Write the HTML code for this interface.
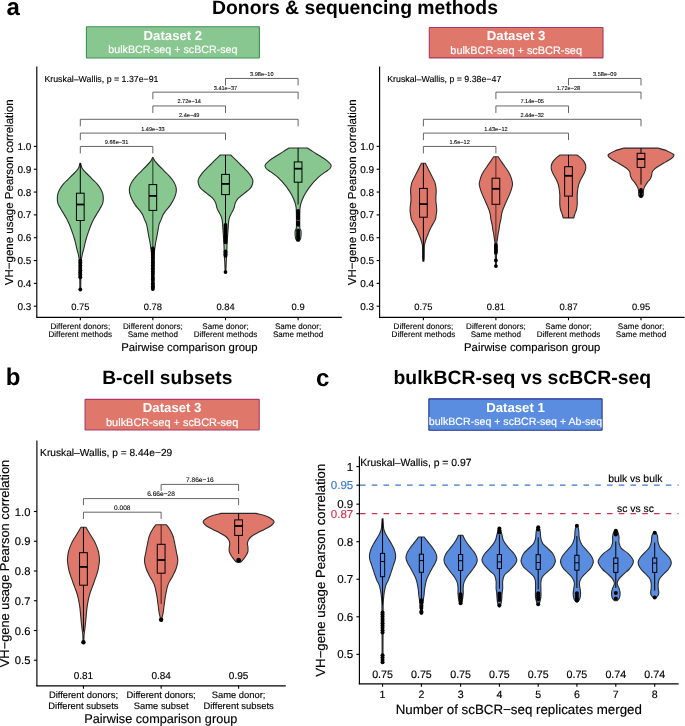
<!DOCTYPE html>
<html><head><meta charset="utf-8"><title>VH-gene usage figure</title>
<style>
html,body{margin:0;padding:0;background:#fff;}
body{width:685px;height:726px;overflow:hidden;}
svg{display:block;font-family:"Liberation Sans", sans-serif;will-change:transform;text-rendering:geometricPrecision;}
</style></head>
<body>
<svg width="685" height="726" viewBox="0 0 685 726">
<rect x="0" y="0" width="685" height="726" fill="#fff"/>
<text x="6.4" y="15" font-size="24" text-anchor="start" fill="#000" font-weight="bold">a</text>
<text x="355" y="14.2" font-size="19.35" text-anchor="middle" fill="#000" font-weight="bold">Donors &amp; sequencing methods</text>
<text x="5.8" y="385.4" font-size="24" text-anchor="start" fill="#000" font-weight="bold">b</text>
<text x="167.3" y="384.2" font-size="19.2" text-anchor="middle" fill="#000" font-weight="bold">B-cell subsets</text>
<text x="316" y="385.5" font-size="24" text-anchor="start" fill="#000" font-weight="bold">c</text>
<text x="522.3" y="384.1" font-size="19.4" text-anchor="middle" fill="#000" font-weight="bold">bulkBCR-seq vs scBCR-seq</text>
<rect x="86.4" y="26.7" width="173" height="31.3" fill="#88c78f" stroke="#3f8f57" stroke-width="1.1" rx="0.4"/>
<text x="172.9" y="39.85" font-size="13.2" text-anchor="middle" fill="#fff" font-weight="bold">Dataset 2</text>
<text x="172.9" y="53.25" font-size="10.7" text-anchor="middle" fill="#fff" stroke="#fff" stroke-width="0.15">bulkBCR-seq + scBCR-seq</text>
<rect x="429.3" y="27.5" width="173.7" height="30.4" fill="#e0776b" stroke="#a8386a" stroke-width="1.1" rx="0.4"/>
<text x="516.15" y="40.2" font-size="13.2" text-anchor="middle" fill="#fff" font-weight="bold">Dataset 3</text>
<text x="516.15" y="53.6" font-size="10.9" text-anchor="middle" fill="#fff" stroke="#fff" stroke-width="0.15">bulkBCR-seq + scBCR-seq</text>
<rect x="85.1" y="399.4" width="174.1" height="30.6" fill="#e0776b" stroke="#a8386a" stroke-width="1.1" rx="0.4"/>
<text x="172.15" y="412.2" font-size="13.2" text-anchor="middle" fill="#fff" font-weight="bold">Dataset 3</text>
<text x="172.15" y="425.6" font-size="10.95" text-anchor="middle" fill="#fff" stroke="#fff" stroke-width="0.15">bulkBCR-seq + scBCR-seq</text>
<rect x="428.85" y="398.85" width="173.25" height="31.4" fill="#5a8de0" stroke="#23338a" stroke-width="1.1" rx="0.4"/>
<text x="515.48" y="412.05" font-size="13.2" text-anchor="middle" fill="#fff" font-weight="bold">Dataset 1</text>
<text x="515.48" y="425.45" font-size="10.62" text-anchor="middle" fill="#fff" stroke="#fff" stroke-width="0.15">bulkBCR-seq + scBCR-seq + Ab-seq</text>
<line x1="36.8" y1="66.4" x2="36.8" y2="317.85" stroke="#000" stroke-width="1.15"/>
<line x1="33.8" y1="306.21" x2="36.8" y2="306.21" stroke="#000" stroke-width="1.1"/>
<text x="31.4" y="309.81" font-size="10" text-anchor="end" fill="#000" stroke="#000" stroke-width="0.15">0.3</text>
<line x1="33.8" y1="283.38" x2="36.8" y2="283.38" stroke="#000" stroke-width="1.1"/>
<text x="31.4" y="286.98" font-size="10" text-anchor="end" fill="#000" stroke="#000" stroke-width="0.15">0.4</text>
<line x1="33.8" y1="260.55" x2="36.8" y2="260.55" stroke="#000" stroke-width="1.1"/>
<text x="31.4" y="264.15" font-size="10" text-anchor="end" fill="#000" stroke="#000" stroke-width="0.15">0.5</text>
<line x1="33.8" y1="237.72" x2="36.8" y2="237.72" stroke="#000" stroke-width="1.1"/>
<text x="31.4" y="241.32" font-size="10" text-anchor="end" fill="#000" stroke="#000" stroke-width="0.15">0.6</text>
<line x1="33.8" y1="214.89" x2="36.8" y2="214.89" stroke="#000" stroke-width="1.1"/>
<text x="31.4" y="218.49" font-size="10" text-anchor="end" fill="#000" stroke="#000" stroke-width="0.15">0.7</text>
<line x1="33.8" y1="192.06" x2="36.8" y2="192.06" stroke="#000" stroke-width="1.1"/>
<text x="31.4" y="195.66" font-size="10" text-anchor="end" fill="#000" stroke="#000" stroke-width="0.15">0.8</text>
<line x1="33.8" y1="169.23" x2="36.8" y2="169.23" stroke="#000" stroke-width="1.1"/>
<text x="31.4" y="172.83" font-size="10" text-anchor="end" fill="#000" stroke="#000" stroke-width="0.15">0.9</text>
<line x1="33.8" y1="146.4" x2="36.8" y2="146.4" stroke="#000" stroke-width="1.1"/>
<text x="31.4" y="150" font-size="10" text-anchor="end" fill="#000" stroke="#000" stroke-width="0.15">1.0</text>
<line x1="36.25" y1="317.3" x2="341.8" y2="317.3" stroke="#000" stroke-width="1.15"/>
<line x1="80.3" y1="317.3" x2="80.3" y2="320.3" stroke="#000" stroke-width="1.1"/>
<line x1="152.85" y1="317.3" x2="152.85" y2="320.3" stroke="#000" stroke-width="1.1"/>
<line x1="225.5" y1="317.3" x2="225.5" y2="320.3" stroke="#000" stroke-width="1.1"/>
<line x1="298.1" y1="317.3" x2="298.1" y2="320.3" stroke="#000" stroke-width="1.1"/>
<text x="12.8" y="192.3" font-size="11.5" text-anchor="middle" fill="#000" stroke="#000" stroke-width="0.15" transform="rotate(-90 12.8 192.3)">VH−gene usage Pearson correlation</text>
<text x="189.4" y="351.2" font-size="11.3" text-anchor="middle" fill="#000" stroke="#000" stroke-width="0.15">Pairwise comparison group</text>
<text x="80.3" y="328.9" font-size="8.1" text-anchor="middle" fill="#000" stroke="#000" stroke-width="0.12">Different donors;</text>
<text x="80.3" y="337.3" font-size="8.1" text-anchor="middle" fill="#000" stroke="#000" stroke-width="0.12">Different methods</text>
<text x="152.85" y="328.9" font-size="8.1" text-anchor="middle" fill="#000" stroke="#000" stroke-width="0.12">Different donors;</text>
<text x="152.85" y="337.3" font-size="8.1" text-anchor="middle" fill="#000" stroke="#000" stroke-width="0.12">Same method</text>
<text x="225.5" y="328.9" font-size="8.1" text-anchor="middle" fill="#000" stroke="#000" stroke-width="0.12">Same donor;</text>
<text x="225.5" y="337.3" font-size="8.1" text-anchor="middle" fill="#000" stroke="#000" stroke-width="0.12">Different methods</text>
<text x="298.1" y="328.9" font-size="8.1" text-anchor="middle" fill="#000" stroke="#000" stroke-width="0.12">Same donor;</text>
<text x="298.1" y="337.3" font-size="8.1" text-anchor="middle" fill="#000" stroke="#000" stroke-width="0.12">Same method</text>
<text x="80.3" y="309.9" font-size="9.4" text-anchor="middle" fill="#000" stroke="#000" stroke-width="0.14">0.75</text>
<text x="152.85" y="309.9" font-size="9.4" text-anchor="middle" fill="#000" stroke="#000" stroke-width="0.14">0.78</text>
<text x="225.5" y="309.9" font-size="9.4" text-anchor="middle" fill="#000" stroke="#000" stroke-width="0.14">0.84</text>
<text x="298.1" y="309.9" font-size="9.4" text-anchor="middle" fill="#000" stroke="#000" stroke-width="0.14">0.9</text>
<text x="44.4" y="81.8" font-size="8.8" text-anchor="start" fill="#000" stroke="#000" stroke-width="0.13">Kruskal–Wallis, p = 1.37e−91</text>
<path d="M80.3 153.45 L80.3 146.45 L152.85 146.45 L152.85 153.45" fill="none" stroke="#555" stroke-width="0.9"/>
<text x="116.57" y="143.85" font-size="5.6" text-anchor="middle" fill="#000" stroke="#000" stroke-width="0.08">9.66e−31</text>
<path d="M80.3 140.1 L80.3 133.1 L225.5 133.1 L225.5 140.1" fill="none" stroke="#555" stroke-width="0.9"/>
<text x="152.9" y="130.5" font-size="5.6" text-anchor="middle" fill="#000" stroke="#000" stroke-width="0.08">1.49e−33</text>
<path d="M80.3 126.3 L80.3 119.3 L298.1 119.3 L298.1 126.3" fill="none" stroke="#555" stroke-width="0.9"/>
<text x="189.2" y="116.7" font-size="5.6" text-anchor="middle" fill="#000" stroke="#000" stroke-width="0.08">2.4e−49</text>
<path d="M152.85 112.95 L152.85 105.95 L225.5 105.95 L225.5 112.95" fill="none" stroke="#555" stroke-width="0.9"/>
<text x="189.18" y="103.35" font-size="5.6" text-anchor="middle" fill="#000" stroke="#000" stroke-width="0.08">2.72e−14</text>
<path d="M152.85 99.15 L152.85 92.15 L298.1 92.15 L298.1 99.15" fill="none" stroke="#555" stroke-width="0.9"/>
<text x="225.48" y="89.55" font-size="5.6" text-anchor="middle" fill="#000" stroke="#000" stroke-width="0.08">3.41e−37</text>
<path d="M225.5 85.45 L225.5 78.45 L298.1 78.45 L298.1 85.45" fill="none" stroke="#555" stroke-width="0.9"/>
<text x="261.8" y="75.85" font-size="5.6" text-anchor="middle" fill="#000" stroke="#000" stroke-width="0.08">3.98e−10</text>
<path d="M80.7 163.2 C80.78 163.58 81 164.75 81.2 165.5 C81.4 166.25 81.45 166.85 81.9 167.7 C82.35 168.55 82.93 169.47 83.9 170.6 C84.87 171.73 86.27 173.05 87.7 174.5 C89.13 175.95 90.9 177.7 92.5 179.3 C94.1 180.9 95.93 182.5 97.3 184.1 C98.67 185.7 99.8 187.3 100.7 188.9 C101.6 190.5 102.27 192.1 102.7 193.7 C103.13 195.3 103.3 196.88 103.3 198.5 C103.3 200.12 103.22 201.78 102.7 203.4 C102.18 205.02 101.08 206.6 100.2 208.2 C99.32 209.8 98.35 211.4 97.4 213 C96.45 214.6 95.38 216.2 94.5 217.8 C93.62 219.4 92.83 221 92.1 222.6 C91.37 224.2 90.58 226.2 90.1 227.4 C89.62 228.6 89.63 228.6 89.2 229.8 C88.77 231 88.03 232.98 87.5 234.6 C86.97 236.22 86.45 237.88 86 239.5 C85.55 241.12 85.18 242.7 84.8 244.3 C84.42 245.9 84.1 247.5 83.7 249.1 C83.3 250.7 82.77 252.3 82.4 253.9 C82.03 255.5 81.73 257.02 81.5 258.7 C81.27 260.38 81.12 260.45 81 264 C80.88 267.55 80.85 275.75 80.8 280 C80.75 284.25 80.72 287.92 80.7 289.5 L79.9 289.5 C79.88 287.92 79.85 284.25 79.8 280 C79.75 275.75 79.72 267.55 79.6 264 C79.48 260.45 79.33 260.38 79.1 258.7 C78.87 257.02 78.57 255.5 78.2 253.9 C77.83 252.3 77.3 250.7 76.9 249.1 C76.5 247.5 76.18 245.9 75.8 244.3 C75.42 242.7 75.05 241.12 74.6 239.5 C74.15 237.88 73.63 236.22 73.1 234.6 C72.57 232.98 71.83 231 71.4 229.8 C70.97 228.6 70.98 228.6 70.5 227.4 C70.02 226.2 69.23 224.2 68.5 222.6 C67.77 221 66.98 219.4 66.1 217.8 C65.22 216.2 64.15 214.6 63.2 213 C62.25 211.4 61.28 209.8 60.4 208.2 C59.52 206.6 58.42 205.02 57.9 203.4 C57.38 201.78 57.3 200.12 57.3 198.5 C57.3 196.88 57.47 195.3 57.9 193.7 C58.33 192.1 59 190.5 59.9 188.9 C60.8 187.3 61.93 185.7 63.3 184.1 C64.67 182.5 66.5 180.9 68.1 179.3 C69.7 177.7 71.47 175.95 72.9 174.5 C74.33 173.05 75.73 171.73 76.7 170.6 C77.67 169.47 78.25 168.55 78.7 167.7 C79.15 166.85 79.2 166.25 79.4 165.5 C79.6 164.75 79.82 163.58 79.9 163.2 Z" fill="#88c78f" stroke="#2b2b2b" stroke-width="1.1" stroke-linejoin="round"/>
<line x1="80.3" y1="163.4" x2="80.3" y2="260" stroke="#000" stroke-width="1"/>
<circle cx="80.3" cy="260.6" r="1.9" fill="#000"/>
<circle cx="80.3" cy="262.22" r="1.9" fill="#000"/>
<circle cx="80.3" cy="263.83" r="1.9" fill="#000"/>
<circle cx="80.3" cy="265.45" r="1.9" fill="#000"/>
<circle cx="80.3" cy="267.07" r="1.9" fill="#000"/>
<circle cx="80.3" cy="268.68" r="1.9" fill="#000"/>
<circle cx="80.3" cy="270.3" r="1.9" fill="#000"/>
<circle cx="80.3" cy="271.9" r="1.9" fill="#000"/>
<circle cx="80.3" cy="273" r="1.9" fill="#000"/>
<circle cx="80.3" cy="274.5" r="1.9" fill="#000"/>
<circle cx="80.3" cy="275.9" r="1.9" fill="#000"/>
<circle cx="80.3" cy="277.3" r="1.9" fill="#000"/>
<circle cx="80.3" cy="289.5" r="1.9" fill="#000"/>
<rect x="76.45" y="193.2" width="7.7" height="27.3" fill="#88c78f" stroke="#000" stroke-width="1"/>
<line x1="76.45" y1="204.5" x2="84.15" y2="204.5" stroke="#000" stroke-width="1.8"/>
<path d="M153.25 157.6 C153.38 157.92 153.7 158.82 154.05 159.5 C154.4 160.18 154.4 160.53 155.35 161.7 C156.3 162.87 158.22 164.9 159.75 166.5 C161.28 168.1 162.95 169.7 164.55 171.3 C166.15 172.9 167.9 174.48 169.35 176.1 C170.8 177.72 172.2 179.38 173.25 181 C174.3 182.62 175.13 184.2 175.65 185.8 C176.17 187.4 176.4 189 176.35 190.6 C176.3 192.2 175.87 193.78 175.35 195.4 C174.83 197.02 174.08 198.68 173.25 200.3 C172.42 201.92 171.48 203.5 170.35 205.1 C169.22 206.7 167.67 208.3 166.45 209.9 C165.23 211.5 163.92 213.12 163.05 214.7 C162.18 216.28 161.88 217.88 161.25 219.4 C160.62 220.92 159.73 222.33 159.25 223.8 C158.77 225.27 158.63 226.73 158.35 228.2 C158.07 229.67 157.82 231.12 157.55 232.6 C157.28 234.08 157.07 235.43 156.75 237.1 C156.43 238.77 155.97 240.77 155.65 242.6 C155.33 244.43 155.12 246.03 154.85 248.1 C154.58 250.17 154.27 251.35 154.05 255 C153.83 258.65 153.68 264.33 153.55 270 C153.42 275.67 153.3 285.83 153.25 289 L152.45 289 C152.4 285.83 152.28 275.67 152.15 270 C152.02 264.33 151.87 258.65 151.65 255 C151.43 251.35 151.12 250.17 150.85 248.1 C150.58 246.03 150.37 244.43 150.05 242.6 C149.73 240.77 149.27 238.77 148.95 237.1 C148.63 235.43 148.42 234.08 148.15 232.6 C147.88 231.12 147.63 229.67 147.35 228.2 C147.07 226.73 146.93 225.27 146.45 223.8 C145.97 222.33 145.08 220.92 144.45 219.4 C143.82 217.88 143.52 216.28 142.65 214.7 C141.78 213.12 140.47 211.5 139.25 209.9 C138.03 208.3 136.48 206.7 135.35 205.1 C134.22 203.5 133.28 201.92 132.45 200.3 C131.62 198.68 130.87 197.02 130.35 195.4 C129.83 193.78 129.4 192.2 129.35 190.6 C129.3 189 129.53 187.4 130.05 185.8 C130.57 184.2 131.4 182.62 132.45 181 C133.5 179.38 134.9 177.72 136.35 176.1 C137.8 174.48 139.55 172.9 141.15 171.3 C142.75 169.7 144.42 168.1 145.95 166.5 C147.48 164.9 149.4 162.87 150.35 161.7 C151.3 160.53 151.3 160.18 151.65 159.5 C152 158.82 152.32 157.92 152.45 157.6 Z" fill="#88c78f" stroke="#2b2b2b" stroke-width="1.1" stroke-linejoin="round"/>
<line x1="152.85" y1="157.8" x2="152.85" y2="248" stroke="#1d3a22" stroke-width="1"/>
<circle cx="152.85" cy="248.3" r="1.9" fill="#000"/>
<circle cx="152.85" cy="249.84" r="1.9" fill="#000"/>
<circle cx="152.85" cy="251.38" r="1.9" fill="#000"/>
<circle cx="152.85" cy="252.92" r="1.9" fill="#000"/>
<circle cx="152.85" cy="254.46" r="1.9" fill="#000"/>
<circle cx="152.85" cy="256.01" r="1.9" fill="#000"/>
<circle cx="152.85" cy="257.55" r="1.9" fill="#000"/>
<circle cx="152.85" cy="259.09" r="1.9" fill="#000"/>
<circle cx="152.85" cy="260.63" r="1.9" fill="#000"/>
<circle cx="152.85" cy="262.17" r="1.9" fill="#000"/>
<circle cx="152.85" cy="263.71" r="1.9" fill="#000"/>
<circle cx="152.85" cy="265.25" r="1.9" fill="#000"/>
<circle cx="152.85" cy="266.79" r="1.9" fill="#000"/>
<circle cx="152.85" cy="268.34" r="1.9" fill="#000"/>
<circle cx="152.85" cy="269.88" r="1.9" fill="#000"/>
<circle cx="152.85" cy="271.42" r="1.9" fill="#000"/>
<circle cx="152.85" cy="272.96" r="1.9" fill="#000"/>
<circle cx="152.85" cy="274.5" r="1.9" fill="#000"/>
<circle cx="152.85" cy="276.7" r="1.9" fill="#000"/>
<circle cx="152.85" cy="278.1" r="1.9" fill="#000"/>
<circle cx="152.85" cy="279.5" r="1.9" fill="#000"/>
<circle cx="152.85" cy="281" r="1.9" fill="#000"/>
<circle cx="152.85" cy="283.2" r="1.9" fill="#000"/>
<circle cx="152.85" cy="284.8" r="1.9" fill="#000"/>
<circle cx="152.85" cy="286.2" r="1.9" fill="#000"/>
<circle cx="152.85" cy="287.6" r="1.9" fill="#000"/>
<circle cx="152.85" cy="289" r="1.9" fill="#000"/>
<rect x="149" y="184.6" width="7.7" height="25.8" fill="#88c78f" stroke="#000" stroke-width="1"/>
<line x1="149" y1="195.9" x2="156.7" y2="195.9" stroke="#000" stroke-width="1.8"/>
<path d="M230.7 155 C231.5 155.77 233.88 158.02 235.5 159.6 C237.12 161.18 238.78 162.88 240.4 164.5 C242.02 166.12 243.68 167.7 245.2 169.3 C246.72 170.9 248.3 172.5 249.5 174.1 C250.7 175.7 251.83 177.62 252.4 178.9 C252.97 180.18 252.98 180.67 252.9 181.8 C252.82 182.93 252.38 184.57 251.9 185.7 C251.42 186.83 251.28 187.32 250 188.6 C248.72 189.88 246.13 191.8 244.2 193.4 C242.27 195 239.88 196.6 238.4 198.2 C236.92 199.8 236.02 201.38 235.3 203 C234.58 204.62 234.45 206.73 234.1 207.9 C233.75 209.07 233.78 208.85 233.2 210 C232.62 211.15 231.32 213.2 230.6 214.8 C229.88 216.4 229.27 217.98 228.9 219.6 C228.53 221.22 228.53 222.88 228.4 224.5 C228.27 226.12 228.22 227.7 228.1 229.3 C227.98 230.9 227.82 232.5 227.7 234.1 C227.58 235.7 227.5 237.3 227.4 238.9 C227.3 240.5 227.18 242.1 227.1 243.7 C227.02 245.3 226.95 246.88 226.9 248.5 C226.85 250.12 226.87 251.78 226.8 253.4 C226.73 255.02 226.6 256.6 226.5 258.2 C226.4 259.8 226.28 261.37 226.2 263 C226.12 264.63 226.05 266.5 226 268 C225.95 269.5 225.92 271.33 225.9 272 L225.1 272 C225.08 271.33 225.05 269.5 225 268 C224.95 266.5 224.88 264.63 224.8 263 C224.72 261.37 224.6 259.8 224.5 258.2 C224.4 256.6 224.27 255.02 224.2 253.4 C224.13 251.78 224.15 250.12 224.1 248.5 C224.05 246.88 223.98 245.3 223.9 243.7 C223.82 242.1 223.7 240.5 223.6 238.9 C223.5 237.3 223.42 235.7 223.3 234.1 C223.18 232.5 223.02 230.9 222.9 229.3 C222.78 227.7 222.73 226.12 222.6 224.5 C222.47 222.88 222.47 221.22 222.1 219.6 C221.73 217.98 221.12 216.4 220.4 214.8 C219.68 213.2 218.38 211.15 217.8 210 C217.22 208.85 217.25 209.07 216.9 207.9 C216.55 206.73 216.42 204.62 215.7 203 C214.98 201.38 214.08 199.8 212.6 198.2 C211.12 196.6 208.73 195 206.8 193.4 C204.87 191.8 202.28 189.88 201 188.6 C199.72 187.32 199.58 186.83 199.1 185.7 C198.62 184.57 198.18 182.93 198.1 181.8 C198.02 180.67 198.03 180.18 198.6 178.9 C199.17 177.62 200.3 175.7 201.5 174.1 C202.7 172.5 204.28 170.9 205.8 169.3 C207.32 167.7 208.98 166.12 210.6 164.5 C212.22 162.88 213.88 161.18 215.5 159.6 C217.12 158.02 219.5 155.77 220.3 155 Z" fill="#88c78f" stroke="#2b2b2b" stroke-width="1.1" stroke-linejoin="round"/>
<line x1="225.5" y1="155" x2="225.5" y2="224.9" stroke="#000" stroke-width="1"/>
<circle cx="225.5" cy="224.9" r="1.9" fill="#000"/>
<circle cx="225.5" cy="226.54" r="1.9" fill="#000"/>
<circle cx="225.5" cy="228.18" r="1.9" fill="#000"/>
<circle cx="225.5" cy="229.82" r="1.9" fill="#000"/>
<circle cx="225.5" cy="231.46" r="1.9" fill="#000"/>
<circle cx="225.5" cy="233.1" r="1.9" fill="#000"/>
<circle cx="225.5" cy="235" r="1.9" fill="#000"/>
<circle cx="225.5" cy="236.3" r="1.9" fill="#000"/>
<circle cx="225.5" cy="237.6" r="1.9" fill="#000"/>
<circle cx="225.5" cy="238.9" r="1.9" fill="#000"/>
<circle cx="225.5" cy="240.3" r="1.9" fill="#000"/>
<circle cx="225.5" cy="242.3" r="1.9" fill="#000"/>
<circle cx="225.5" cy="251.4" r="1.9" fill="#000"/>
<circle cx="225.5" cy="252.87" r="1.9" fill="#000"/>
<circle cx="225.5" cy="254.33" r="1.9" fill="#000"/>
<circle cx="225.5" cy="255.8" r="1.9" fill="#000"/>
<circle cx="225.5" cy="272.1" r="1.9" fill="#000"/>
<rect x="221.65" y="174.4" width="7.7" height="20.2" fill="#88c78f" stroke="#000" stroke-width="1"/>
<line x1="221.65" y1="183.9" x2="229.35" y2="183.9" stroke="#000" stroke-width="1.8"/>
<path d="M307.2 148 C308.22 148.65 311.08 150.52 313.3 151.9 C315.52 153.28 318.18 154.82 320.5 156.3 C322.82 157.78 325.43 159.32 327.2 160.8 C328.97 162.28 330.63 163.92 331.1 165.2 C331.57 166.48 330.93 167.38 330 168.5 C329.07 169.62 327.27 170.6 325.5 171.9 C323.73 173.2 321.15 174.83 319.4 176.3 C317.65 177.77 316.38 179.22 315 180.7 C313.62 182.18 312.3 183.72 311.1 185.2 C309.9 186.68 308.82 188.12 307.8 189.6 C306.78 191.08 305.83 192.62 305 194.1 C304.17 195.58 303.45 197.03 302.8 198.5 C302.15 199.97 301.55 201.42 301.1 202.9 C300.65 204.38 300.3 206.17 300.1 207.4 C299.9 208.63 299.95 209.23 299.9 210.3 C299.85 211.37 299.82 210.92 299.8 213.8 C299.78 216.68 299.62 224.85 299.8 227.6 C299.98 230.35 300.68 229.15 300.9 230.3 C301.12 231.45 301.17 233.12 301.1 234.5 C301.03 235.88 300.77 237.58 300.5 238.6 C300.23 239.62 299.82 240.15 299.5 240.6 C299.18 241.05 298.75 241.18 298.6 241.3 L297.6 241.3 C297.45 241.18 297.02 241.05 296.7 240.6 C296.38 240.15 295.97 239.62 295.7 238.6 C295.43 237.58 295.17 235.88 295.1 234.5 C295.03 233.12 295.08 231.45 295.3 230.3 C295.52 229.15 296.22 230.35 296.4 227.6 C296.58 224.85 296.42 216.68 296.4 213.8 C296.38 210.92 296.35 211.37 296.3 210.3 C296.25 209.23 296.3 208.63 296.1 207.4 C295.9 206.17 295.55 204.38 295.1 202.9 C294.65 201.42 294.05 199.97 293.4 198.5 C292.75 197.03 292.03 195.58 291.2 194.1 C290.37 192.62 289.42 191.08 288.4 189.6 C287.38 188.12 286.3 186.68 285.1 185.2 C283.9 183.72 282.58 182.18 281.2 180.7 C279.82 179.22 278.55 177.77 276.8 176.3 C275.05 174.83 272.47 173.2 270.7 171.9 C268.93 170.6 267.13 169.62 266.2 168.5 C265.27 167.38 264.63 166.48 265.1 165.2 C265.57 163.92 267.23 162.28 269 160.8 C270.77 159.32 273.38 157.78 275.7 156.3 C278.02 154.82 280.68 153.28 282.9 151.9 C285.12 150.52 287.98 148.65 289 148 Z" fill="#88c78f" stroke="#2b2b2b" stroke-width="1.1" stroke-linejoin="round"/>
<line x1="298.1" y1="148" x2="298.1" y2="204.6" stroke="#000" stroke-width="1"/>
<circle cx="298.1" cy="211" r="1.9" fill="#000"/>
<circle cx="298.1" cy="212.4" r="1.9" fill="#000"/>
<circle cx="298.1" cy="213.8" r="1.9" fill="#000"/>
<circle cx="298.1" cy="216.2" r="1.9" fill="#000"/>
<circle cx="298.1" cy="217.4" r="1.9" fill="#000"/>
<circle cx="298.1" cy="218.6" r="1.9" fill="#000"/>
<circle cx="298.1" cy="222.4" r="1.9" fill="#000"/>
<circle cx="298.1" cy="223.6" r="1.9" fill="#000"/>
<circle cx="298.1" cy="224.8" r="1.9" fill="#000"/>
<circle cx="298.1" cy="230.3" r="1.9" fill="#000"/>
<circle cx="298.1" cy="231.82" r="1.9" fill="#000"/>
<circle cx="298.1" cy="233.33" r="1.9" fill="#000"/>
<circle cx="298.1" cy="234.85" r="1.9" fill="#000"/>
<circle cx="298.1" cy="236.37" r="1.9" fill="#000"/>
<circle cx="298.1" cy="237.88" r="1.9" fill="#000"/>
<circle cx="298.1" cy="239.4" r="1.9" fill="#000"/>
<rect x="294.25" y="161.9" width="7.7" height="20.3" fill="#88c78f" stroke="#000" stroke-width="1"/>
<line x1="294.25" y1="168.7" x2="301.95" y2="168.7" stroke="#000" stroke-width="1.8"/>
<line x1="379.6" y1="66.4" x2="379.6" y2="317.85" stroke="#000" stroke-width="1.15"/>
<line x1="376.6" y1="306.21" x2="379.6" y2="306.21" stroke="#000" stroke-width="1.1"/>
<text x="374.2" y="309.81" font-size="10" text-anchor="end" fill="#000" stroke="#000" stroke-width="0.15">0.3</text>
<line x1="376.6" y1="283.38" x2="379.6" y2="283.38" stroke="#000" stroke-width="1.1"/>
<text x="374.2" y="286.98" font-size="10" text-anchor="end" fill="#000" stroke="#000" stroke-width="0.15">0.4</text>
<line x1="376.6" y1="260.55" x2="379.6" y2="260.55" stroke="#000" stroke-width="1.1"/>
<text x="374.2" y="264.15" font-size="10" text-anchor="end" fill="#000" stroke="#000" stroke-width="0.15">0.5</text>
<line x1="376.6" y1="237.72" x2="379.6" y2="237.72" stroke="#000" stroke-width="1.1"/>
<text x="374.2" y="241.32" font-size="10" text-anchor="end" fill="#000" stroke="#000" stroke-width="0.15">0.6</text>
<line x1="376.6" y1="214.89" x2="379.6" y2="214.89" stroke="#000" stroke-width="1.1"/>
<text x="374.2" y="218.49" font-size="10" text-anchor="end" fill="#000" stroke="#000" stroke-width="0.15">0.7</text>
<line x1="376.6" y1="192.06" x2="379.6" y2="192.06" stroke="#000" stroke-width="1.1"/>
<text x="374.2" y="195.66" font-size="10" text-anchor="end" fill="#000" stroke="#000" stroke-width="0.15">0.8</text>
<line x1="376.6" y1="169.23" x2="379.6" y2="169.23" stroke="#000" stroke-width="1.1"/>
<text x="374.2" y="172.83" font-size="10" text-anchor="end" fill="#000" stroke="#000" stroke-width="0.15">0.9</text>
<line x1="376.6" y1="146.4" x2="379.6" y2="146.4" stroke="#000" stroke-width="1.1"/>
<text x="374.2" y="150" font-size="10" text-anchor="end" fill="#000" stroke="#000" stroke-width="0.15">1.0</text>
<line x1="379.05" y1="317.3" x2="684.6" y2="317.3" stroke="#000" stroke-width="1.15"/>
<line x1="423.4" y1="317.3" x2="423.4" y2="320.3" stroke="#000" stroke-width="1.1"/>
<line x1="495.9" y1="317.3" x2="495.9" y2="320.3" stroke="#000" stroke-width="1.1"/>
<line x1="568.5" y1="317.3" x2="568.5" y2="320.3" stroke="#000" stroke-width="1.1"/>
<line x1="641" y1="317.3" x2="641" y2="320.3" stroke="#000" stroke-width="1.1"/>
<text x="355.6" y="192.3" font-size="11.5" text-anchor="middle" fill="#000" stroke="#000" stroke-width="0.15" transform="rotate(-90 355.6 192.3)">VH−gene usage Pearson correlation</text>
<text x="532.2" y="351.2" font-size="11.3" text-anchor="middle" fill="#000" stroke="#000" stroke-width="0.15">Pairwise comparison group</text>
<text x="423.4" y="328.9" font-size="8.1" text-anchor="middle" fill="#000" stroke="#000" stroke-width="0.12">Different donors;</text>
<text x="423.4" y="337.3" font-size="8.1" text-anchor="middle" fill="#000" stroke="#000" stroke-width="0.12">Different methods</text>
<text x="495.9" y="328.9" font-size="8.1" text-anchor="middle" fill="#000" stroke="#000" stroke-width="0.12">Different donors;</text>
<text x="495.9" y="337.3" font-size="8.1" text-anchor="middle" fill="#000" stroke="#000" stroke-width="0.12">Same method</text>
<text x="568.5" y="328.9" font-size="8.1" text-anchor="middle" fill="#000" stroke="#000" stroke-width="0.12">Same donor;</text>
<text x="568.5" y="337.3" font-size="8.1" text-anchor="middle" fill="#000" stroke="#000" stroke-width="0.12">Different methods</text>
<text x="641" y="328.9" font-size="8.1" text-anchor="middle" fill="#000" stroke="#000" stroke-width="0.12">Same donor;</text>
<text x="641" y="337.3" font-size="8.1" text-anchor="middle" fill="#000" stroke="#000" stroke-width="0.12">Same method</text>
<text x="423.4" y="309.9" font-size="9.4" text-anchor="middle" fill="#000" stroke="#000" stroke-width="0.14">0.75</text>
<text x="495.9" y="309.9" font-size="9.4" text-anchor="middle" fill="#000" stroke="#000" stroke-width="0.14">0.81</text>
<text x="568.5" y="309.9" font-size="9.4" text-anchor="middle" fill="#000" stroke="#000" stroke-width="0.14">0.87</text>
<text x="641" y="309.9" font-size="9.4" text-anchor="middle" fill="#000" stroke="#000" stroke-width="0.14">0.95</text>
<text x="387.2" y="81.8" font-size="8.8" text-anchor="start" fill="#000" stroke="#000" stroke-width="0.13">Kruskal–Wallis, p = 9.38e−47</text>
<path d="M423.4 153.45 L423.4 146.45 L495.9 146.45 L495.9 153.45" fill="none" stroke="#555" stroke-width="0.9"/>
<text x="459.65" y="143.85" font-size="5.6" text-anchor="middle" fill="#000" stroke="#000" stroke-width="0.08">1.6e−12</text>
<path d="M423.4 140.1 L423.4 133.1 L568.5 133.1 L568.5 140.1" fill="none" stroke="#555" stroke-width="0.9"/>
<text x="495.95" y="130.5" font-size="5.6" text-anchor="middle" fill="#000" stroke="#000" stroke-width="0.08">1.43e−12</text>
<path d="M423.4 126.3 L423.4 119.3 L641 119.3 L641 126.3" fill="none" stroke="#555" stroke-width="0.9"/>
<text x="532.2" y="116.7" font-size="5.6" text-anchor="middle" fill="#000" stroke="#000" stroke-width="0.08">2.44e−32</text>
<path d="M495.9 112.95 L495.9 105.95 L568.5 105.95 L568.5 112.95" fill="none" stroke="#555" stroke-width="0.9"/>
<text x="532.2" y="103.35" font-size="5.6" text-anchor="middle" fill="#000" stroke="#000" stroke-width="0.08">7.14e−05</text>
<path d="M495.9 99.15 L495.9 92.15 L641 92.15 L641 99.15" fill="none" stroke="#555" stroke-width="0.9"/>
<text x="568.45" y="89.55" font-size="5.6" text-anchor="middle" fill="#000" stroke="#000" stroke-width="0.08">1.72e−28</text>
<path d="M568.5 85.45 L568.5 78.45 L641 78.45 L641 85.45" fill="none" stroke="#555" stroke-width="0.9"/>
<text x="604.75" y="75.85" font-size="5.6" text-anchor="middle" fill="#000" stroke="#000" stroke-width="0.08">3.58e−09</text>
<path d="M425.3 163.3 C425.68 164.03 426.82 166.17 427.6 167.7 C428.38 169.23 429.2 170.9 430 172.5 C430.8 174.1 431.6 175.7 432.4 177.3 C433.2 178.9 434.22 180.48 434.8 182.1 C435.38 183.72 435.67 185.38 435.9 187 C436.13 188.62 436.2 190.2 436.2 191.8 C436.2 193.4 435.95 195 435.9 196.6 C435.85 198.2 435.8 199.78 435.9 201.4 C436 203.02 436.37 204.68 436.5 206.3 C436.63 207.92 436.78 209.5 436.7 211.1 C436.62 212.7 436.18 214.62 436 215.9 C435.82 217.18 435.97 217.68 435.6 218.8 C435.23 219.92 434.48 221.33 433.8 222.6 C433.12 223.87 432.2 225.13 431.5 226.4 C430.8 227.67 430.17 228.93 429.6 230.2 C429.03 231.47 428.6 232.75 428.1 234 C427.6 235.25 427.07 236.45 426.6 237.7 C426.13 238.95 425.67 240.23 425.3 241.5 C424.93 242.77 424.57 244.03 424.4 245.3 C424.23 246.57 424.33 246.98 424.3 249.1 C424.27 251.22 424.27 255.98 424.2 258 C424.13 260.02 423.95 260.67 423.9 261.2 L422.9 261.2 C422.85 260.67 422.67 260.02 422.6 258 C422.53 255.98 422.53 251.22 422.5 249.1 C422.47 246.98 422.57 246.57 422.4 245.3 C422.23 244.03 421.87 242.77 421.5 241.5 C421.13 240.23 420.67 238.95 420.2 237.7 C419.73 236.45 419.2 235.25 418.7 234 C418.2 232.75 417.77 231.47 417.2 230.2 C416.63 228.93 416 227.67 415.3 226.4 C414.6 225.13 413.68 223.87 413 222.6 C412.32 221.33 411.57 219.92 411.2 218.8 C410.83 217.68 410.98 217.18 410.8 215.9 C410.62 214.62 410.18 212.7 410.1 211.1 C410.02 209.5 410.17 207.92 410.3 206.3 C410.43 204.68 410.8 203.02 410.9 201.4 C411 199.78 410.95 198.2 410.9 196.6 C410.85 195 410.6 193.4 410.6 191.8 C410.6 190.2 410.67 188.62 410.9 187 C411.13 185.38 411.42 183.72 412 182.1 C412.58 180.48 413.6 178.9 414.4 177.3 C415.2 175.7 416 174.1 416.8 172.5 C417.6 170.9 418.42 169.23 419.2 167.7 C419.98 166.17 421.12 164.03 421.5 163.3 Z" fill="#e0776b" stroke="#2b2b2b" stroke-width="1.1" stroke-linejoin="round"/>
<line x1="423.4" y1="163.3" x2="423.4" y2="261.2" stroke="#000" stroke-width="1"/>
<rect x="419.55" y="188.4" width="7.7" height="28.8" fill="#e0776b" stroke="#000" stroke-width="1"/>
<line x1="419.55" y1="204.1" x2="427.25" y2="204.1" stroke="#000" stroke-width="1.8"/>
<path d="M498.2 156.8 C498.73 157.6 500.3 159.98 501.4 161.6 C502.5 163.22 503.68 164.88 504.8 166.5 C505.92 168.12 507.13 169.7 508.1 171.3 C509.07 172.9 509.95 174.5 510.6 176.1 C511.25 177.7 511.68 179.45 512 180.9 C512.32 182.35 512.67 183.18 512.5 184.8 C512.33 186.42 511.57 188.83 511 190.6 C510.43 192.37 509.78 193.8 509.1 195.4 C508.42 197 507.62 198.6 506.9 200.2 C506.18 201.8 505.48 203.4 504.8 205 C504.12 206.6 503.35 208.18 502.8 209.8 C502.25 211.42 501.8 213.2 501.5 214.7 C501.2 216.2 501.23 217.48 501 218.8 C500.77 220.12 500.37 221.33 500.1 222.6 C499.83 223.87 499.6 225.15 499.4 226.4 C499.2 227.65 499.12 228.85 498.9 230.1 C498.68 231.35 498.32 232.63 498.1 233.9 C497.88 235.17 497.78 236.43 497.6 237.7 C497.42 238.97 497.15 240.37 497 241.5 C496.85 242.63 496.78 242.25 496.7 244.5 C496.62 246.75 496.57 251.4 496.5 255 C496.43 258.6 496.33 264.25 496.3 266.1 L495.5 266.1 C495.47 264.25 495.37 258.6 495.3 255 C495.23 251.4 495.18 246.75 495.1 244.5 C495.02 242.25 494.95 242.63 494.8 241.5 C494.65 240.37 494.38 238.97 494.2 237.7 C494.02 236.43 493.92 235.17 493.7 233.9 C493.48 232.63 493.12 231.35 492.9 230.1 C492.68 228.85 492.6 227.65 492.4 226.4 C492.2 225.15 491.97 223.87 491.7 222.6 C491.43 221.33 491.03 220.12 490.8 218.8 C490.57 217.48 490.6 216.2 490.3 214.7 C490 213.2 489.55 211.42 489 209.8 C488.45 208.18 487.68 206.6 487 205 C486.32 203.4 485.62 201.8 484.9 200.2 C484.18 198.6 483.38 197 482.7 195.4 C482.02 193.8 481.37 192.37 480.8 190.6 C480.23 188.83 479.47 186.42 479.3 184.8 C479.13 183.18 479.48 182.35 479.8 180.9 C480.12 179.45 480.55 177.7 481.2 176.1 C481.85 174.5 482.73 172.9 483.7 171.3 C484.67 169.7 485.88 168.12 487 166.5 C488.12 164.88 489.3 163.22 490.4 161.6 C491.5 159.98 493.07 157.6 493.6 156.8 Z" fill="#e0776b" stroke="#2b2b2b" stroke-width="1.1" stroke-linejoin="round"/>
<line x1="495.9" y1="156.8" x2="495.9" y2="244" stroke="#5a2520" stroke-width="1"/>
<circle cx="495.9" cy="244.8" r="1.9" fill="#000"/>
<circle cx="495.9" cy="246.4" r="1.9" fill="#000"/>
<circle cx="495.9" cy="248" r="1.9" fill="#000"/>
<circle cx="495.9" cy="249.6" r="1.9" fill="#000"/>
<circle cx="495.9" cy="251.2" r="1.9" fill="#000"/>
<circle cx="495.9" cy="252.8" r="1.9" fill="#000"/>
<circle cx="495.9" cy="260.4" r="1.9" fill="#000"/>
<circle cx="495.9" cy="266.1" r="1.9" fill="#000"/>
<rect x="492.05" y="178.2" width="7.7" height="26.1" fill="#e0776b" stroke="#000" stroke-width="1"/>
<line x1="492.05" y1="188.8" x2="499.75" y2="188.8" stroke="#000" stroke-width="1.8"/>
<path d="M576.9 155 C577.53 155.48 579.48 156.75 580.7 157.9 C581.92 159.05 583.37 160.57 584.2 161.9 C585.03 163.23 585.48 164.58 585.7 165.9 C585.92 167.22 585.8 168.48 585.5 169.8 C585.2 171.12 584.53 172.47 583.9 173.8 C583.27 175.13 582.4 176.48 581.7 177.8 C581 179.12 580.25 180.38 579.7 181.7 C579.15 183.02 578.73 184.37 578.4 185.7 C578.07 187.03 577.9 188.22 577.7 189.7 C577.5 191.18 577.28 192.95 577.2 194.6 C577.12 196.25 577.2 197.95 577.2 199.6 C577.2 201.25 577.32 202.85 577.2 204.5 C577.08 206.15 576.92 207.83 576.5 209.5 C576.08 211.17 575.15 213.1 574.7 214.5 C574.25 215.9 573.95 217.33 573.8 217.9 L563.2 217.9 C563.05 217.33 562.75 215.9 562.3 214.5 C561.85 213.1 560.92 211.17 560.5 209.5 C560.08 207.83 559.92 206.15 559.8 204.5 C559.68 202.85 559.8 201.25 559.8 199.6 C559.8 197.95 559.88 196.25 559.8 194.6 C559.72 192.95 559.5 191.18 559.3 189.7 C559.1 188.22 558.93 187.03 558.6 185.7 C558.27 184.37 557.85 183.02 557.3 181.7 C556.75 180.38 556 179.12 555.3 177.8 C554.6 176.48 553.73 175.13 553.1 173.8 C552.47 172.47 551.8 171.12 551.5 169.8 C551.2 168.48 551.08 167.22 551.3 165.9 C551.52 164.58 551.97 163.23 552.8 161.9 C553.63 160.57 555.08 159.05 556.3 157.9 C557.52 156.75 559.47 155.48 560.1 155 Z" fill="#e0776b" stroke="#2b2b2b" stroke-width="1.1" stroke-linejoin="round"/>
<line x1="568.5" y1="155" x2="568.5" y2="217.9" stroke="#000" stroke-width="1"/>
<rect x="564.65" y="166.7" width="7.7" height="29.4" fill="#e0776b" stroke="#000" stroke-width="1"/>
<line x1="564.65" y1="175.8" x2="572.35" y2="175.8" stroke="#000" stroke-width="1.8"/>
<path d="M658.1 148.1 C659.6 148.57 664.57 149.88 667.1 150.9 C669.63 151.92 672.18 153.37 673.3 154.2 C674.42 155.03 674.18 155.15 673.8 155.9 C673.42 156.65 672.4 157.67 671 158.7 C669.6 159.73 667.27 160.97 665.4 162.1 C663.53 163.23 661.58 164.37 659.8 165.5 C658.02 166.63 655.98 167.78 654.7 168.9 C653.42 170.02 652.62 171.08 652.1 172.2 C651.58 173.32 651.92 174.47 651.6 175.6 C651.28 176.73 650.9 177.88 650.2 179 C649.5 180.12 648.23 181.18 647.4 182.3 C646.57 183.42 645.82 184.57 645.2 185.7 C644.58 186.83 644 187.97 643.7 189.1 C643.4 190.23 643.48 191.43 643.4 192.5 C643.32 193.57 643.47 194.67 643.2 195.5 C642.93 196.33 642.03 197.17 641.8 197.5 L640.2 197.5 C639.97 197.17 639.07 196.33 638.8 195.5 C638.53 194.67 638.68 193.57 638.6 192.5 C638.52 191.43 638.6 190.23 638.3 189.1 C638 187.97 637.42 186.83 636.8 185.7 C636.18 184.57 635.43 183.42 634.6 182.3 C633.77 181.18 632.5 180.12 631.8 179 C631.1 177.88 630.72 176.73 630.4 175.6 C630.08 174.47 630.42 173.32 629.9 172.2 C629.38 171.08 628.58 170.02 627.3 168.9 C626.02 167.78 623.98 166.63 622.2 165.5 C620.42 164.37 618.47 163.23 616.6 162.1 C614.73 160.97 612.4 159.73 611 158.7 C609.6 157.67 608.58 156.65 608.2 155.9 C607.82 155.15 607.58 155.03 608.7 154.2 C609.82 153.37 612.37 151.92 614.9 150.9 C617.43 149.88 622.4 148.57 623.9 148.1 Z" fill="#e0776b" stroke="#2b2b2b" stroke-width="1.1" stroke-linejoin="round"/>
<line x1="641" y1="148.1" x2="641" y2="184.6" stroke="#000" stroke-width="1"/>
<circle cx="641" cy="190" r="1.9" fill="#000"/>
<circle cx="641" cy="191.25" r="1.9" fill="#000"/>
<circle cx="641" cy="192.5" r="1.9" fill="#000"/>
<circle cx="641" cy="195.5" r="1.9" fill="#000"/>
<rect x="637.15" y="153.3" width="7.7" height="14.1" fill="#e0776b" stroke="#000" stroke-width="1"/>
<line x1="637.15" y1="159.1" x2="644.85" y2="159.1" stroke="#000" stroke-width="1.8"/>
<line x1="36.9" y1="440.4" x2="36.9" y2="686.35" stroke="#000" stroke-width="1.15"/>
<line x1="33.9" y1="660.25" x2="36.9" y2="660.25" stroke="#000" stroke-width="1.1"/>
<text x="30.4" y="664.28" font-size="11.2" text-anchor="end" fill="#000" stroke="#000" stroke-width="0.15">0.5</text>
<line x1="33.9" y1="630.5" x2="36.9" y2="630.5" stroke="#000" stroke-width="1.1"/>
<text x="30.4" y="634.53" font-size="11.2" text-anchor="end" fill="#000" stroke="#000" stroke-width="0.15">0.6</text>
<line x1="33.9" y1="600.75" x2="36.9" y2="600.75" stroke="#000" stroke-width="1.1"/>
<text x="30.4" y="604.78" font-size="11.2" text-anchor="end" fill="#000" stroke="#000" stroke-width="0.15">0.7</text>
<line x1="33.9" y1="571" x2="36.9" y2="571" stroke="#000" stroke-width="1.1"/>
<text x="30.4" y="575.03" font-size="11.2" text-anchor="end" fill="#000" stroke="#000" stroke-width="0.15">0.8</text>
<line x1="33.9" y1="541.25" x2="36.9" y2="541.25" stroke="#000" stroke-width="1.1"/>
<text x="30.4" y="545.28" font-size="11.2" text-anchor="end" fill="#000" stroke="#000" stroke-width="0.15">0.9</text>
<line x1="33.9" y1="511.5" x2="36.9" y2="511.5" stroke="#000" stroke-width="1.1"/>
<text x="30.4" y="515.53" font-size="11.2" text-anchor="end" fill="#000" stroke="#000" stroke-width="0.15">1.0</text>
<line x1="36.35" y1="685.8" x2="285.8" y2="685.8" stroke="#000" stroke-width="1.15"/>
<line x1="83.45" y1="685.8" x2="83.45" y2="688.8" stroke="#000" stroke-width="1.1"/>
<line x1="161.15" y1="685.8" x2="161.15" y2="688.8" stroke="#000" stroke-width="1.1"/>
<line x1="238.6" y1="685.8" x2="238.6" y2="688.8" stroke="#000" stroke-width="1.1"/>
<text x="9.3" y="563.5" font-size="12.85" text-anchor="middle" fill="#000" stroke="#000" stroke-width="0.15" transform="rotate(-90 9.3 563.5)">VH−gene usage Pearson correlation</text>
<text x="160.8" y="723.2" font-size="12.7" text-anchor="middle" fill="#000" stroke="#000" stroke-width="0.15">Pairwise comparison group</text>
<text x="83.45" y="698.2" font-size="9.4" text-anchor="middle" fill="#000" stroke="#000" stroke-width="0.14">Different donors;</text>
<text x="83.45" y="708.6" font-size="9.4" text-anchor="middle" fill="#000" stroke="#000" stroke-width="0.14">Different subsets</text>
<text x="161.15" y="698.2" font-size="9.4" text-anchor="middle" fill="#000" stroke="#000" stroke-width="0.14">Different donors;</text>
<text x="161.15" y="708.6" font-size="9.4" text-anchor="middle" fill="#000" stroke="#000" stroke-width="0.14">Same subset</text>
<text x="238.6" y="698.2" font-size="9.4" text-anchor="middle" fill="#000" stroke="#000" stroke-width="0.14">Same donor;</text>
<text x="238.6" y="708.6" font-size="9.4" text-anchor="middle" fill="#000" stroke="#000" stroke-width="0.14">Different subsets</text>
<text x="83.45" y="678.6" font-size="10" text-anchor="middle" fill="#000" stroke="#000" stroke-width="0.15">0.81</text>
<text x="161.15" y="678.6" font-size="10" text-anchor="middle" fill="#000" stroke="#000" stroke-width="0.15">0.84</text>
<text x="238.6" y="678.6" font-size="10" text-anchor="middle" fill="#000" stroke="#000" stroke-width="0.15">0.95</text>
<text x="40.1" y="455.9" font-size="10.2" text-anchor="start" fill="#000" stroke="#000" stroke-width="0.15">Kruskal–Wallis, p = 8.44e−29</text>
<path d="M83.45 518.9 L83.45 512.2 L161.15 512.2 L161.15 518.9" fill="none" stroke="#555" stroke-width="0.9"/>
<text x="122.3" y="509.9" font-size="6.6" text-anchor="middle" fill="#000" stroke="#000" stroke-width="0.1">0.008</text>
<path d="M83.45 505.1 L83.45 498.6 L238.6 498.6 L238.6 505.1" fill="none" stroke="#555" stroke-width="0.9"/>
<text x="161.03" y="496.3" font-size="6.6" text-anchor="middle" fill="#000" stroke="#000" stroke-width="0.1">6.66e−28</text>
<path d="M161.15 491 L161.15 484.4 L238.6 484.4 L238.6 491" fill="none" stroke="#555" stroke-width="0.9"/>
<text x="199.88" y="482.1" font-size="6.6" text-anchor="middle" fill="#000" stroke="#000" stroke-width="0.1">7.86e−16</text>
<path d="M85.95 527.3 C86.38 528.03 87.63 530.17 88.55 531.7 C89.47 533.23 90.48 534.9 91.45 536.5 C92.42 538.1 93.5 539.7 94.35 541.3 C95.2 542.9 95.9 544.48 96.55 546.1 C97.2 547.72 97.82 549.38 98.25 551 C98.68 552.62 98.95 554.2 99.15 555.8 C99.35 557.4 99.5 559 99.45 560.6 C99.4 562.2 99.1 563.78 98.85 565.4 C98.6 567.02 98.33 568.68 97.95 570.3 C97.57 571.92 97.07 573.5 96.55 575.1 C96.03 576.7 95.42 578.3 94.85 579.9 C94.28 581.5 93.73 583.1 93.15 584.7 C92.57 586.3 91.92 587.95 91.35 589.5 C90.78 591.05 90.2 592.52 89.75 594 C89.3 595.48 88.98 596.92 88.65 598.4 C88.32 599.88 88.02 601.4 87.75 602.9 C87.48 604.4 87.25 605.9 87.05 607.4 C86.85 608.9 86.7 610.42 86.55 611.9 C86.4 613.38 86.28 614.82 86.15 616.3 C86.02 617.78 85.9 619.3 85.75 620.8 C85.6 622.3 85.42 623.8 85.25 625.3 C85.08 626.8 84.93 628.32 84.75 629.8 C84.57 631.28 84.28 632.72 84.15 634.2 C84.02 635.68 84 637.4 83.95 638.7 C83.9 640 83.87 641.45 83.85 642 L83.05 642 C83.03 641.45 83 640 82.95 638.7 C82.9 637.4 82.88 635.68 82.75 634.2 C82.62 632.72 82.33 631.28 82.15 629.8 C81.97 628.32 81.82 626.8 81.65 625.3 C81.48 623.8 81.3 622.3 81.15 620.8 C81 619.3 80.88 617.78 80.75 616.3 C80.62 614.82 80.5 613.38 80.35 611.9 C80.2 610.42 80.05 608.9 79.85 607.4 C79.65 605.9 79.42 604.4 79.15 602.9 C78.88 601.4 78.58 599.88 78.25 598.4 C77.92 596.92 77.6 595.48 77.15 594 C76.7 592.52 76.12 591.05 75.55 589.5 C74.98 587.95 74.33 586.3 73.75 584.7 C73.17 583.1 72.62 581.5 72.05 579.9 C71.48 578.3 70.87 576.7 70.35 575.1 C69.83 573.5 69.33 571.92 68.95 570.3 C68.57 568.68 68.3 567.02 68.05 565.4 C67.8 563.78 67.5 562.2 67.45 560.6 C67.4 559 67.55 557.4 67.75 555.8 C67.95 554.2 68.22 552.62 68.65 551 C69.08 549.38 69.7 547.72 70.35 546.1 C71 544.48 71.7 542.9 72.55 541.3 C73.4 539.7 74.48 538.1 75.45 536.5 C76.42 534.9 77.43 533.23 78.35 531.7 C79.27 530.17 80.52 528.03 80.95 527.3 Z" fill="#e0776b" stroke="#2b2b2b" stroke-width="1.1" stroke-linejoin="round"/>
<line x1="83.45" y1="527.3" x2="83.45" y2="631.6" stroke="#000" stroke-width="1"/>
<circle cx="83.45" cy="642.3" r="2.2" fill="#000"/>
<rect x="79.55" y="552.7" width="7.8" height="32.5" fill="#e0776b" stroke="#000" stroke-width="1"/>
<line x1="79.55" y1="566.9" x2="87.35" y2="566.9" stroke="#000" stroke-width="1.8"/>
<path d="M166.45 524.8 C166.93 525.45 168.43 527.25 169.35 528.7 C170.27 530.15 171.23 531.9 171.95 533.5 C172.67 535.1 173.2 536.7 173.65 538.3 C174.1 539.9 174.32 541.48 174.65 543.1 C174.98 544.72 175.33 546.38 175.65 548 C175.97 549.62 176.23 551.2 176.55 552.8 C176.87 554.4 177.35 556.15 177.55 557.6 C177.75 559.05 177.83 560.22 177.75 561.5 C177.67 562.78 177.37 564.02 177.05 565.3 C176.73 566.58 176.33 567.9 175.85 569.2 C175.37 570.5 174.75 571.82 174.15 573.1 C173.55 574.38 172.88 575.75 172.25 576.9 C171.62 578.05 170.97 578.92 170.35 580 C169.73 581.08 169.05 582.25 168.55 583.4 C168.05 584.55 167.68 585.75 167.35 586.9 C167.02 588.05 166.8 589.17 166.55 590.3 C166.3 591.43 166.07 592.55 165.85 593.7 C165.63 594.85 165.43 596.05 165.25 597.2 C165.07 598.35 164.9 599.47 164.75 600.6 C164.6 601.73 164.5 602.85 164.35 604 C164.2 605.15 164 606.35 163.85 607.5 C163.7 608.65 163.62 609.77 163.45 610.9 C163.28 612.03 163.08 613.2 162.85 614.3 C162.62 615.4 162.27 616.58 162.05 617.5 C161.83 618.42 161.63 619.42 161.55 619.8 L160.75 619.8 C160.67 619.42 160.47 618.42 160.25 617.5 C160.03 616.58 159.68 615.4 159.45 614.3 C159.22 613.2 159.02 612.03 158.85 610.9 C158.68 609.77 158.6 608.65 158.45 607.5 C158.3 606.35 158.1 605.15 157.95 604 C157.8 602.85 157.7 601.73 157.55 600.6 C157.4 599.47 157.23 598.35 157.05 597.2 C156.87 596.05 156.67 594.85 156.45 593.7 C156.23 592.55 156 591.43 155.75 590.3 C155.5 589.17 155.28 588.05 154.95 586.9 C154.62 585.75 154.25 584.55 153.75 583.4 C153.25 582.25 152.57 581.08 151.95 580 C151.33 578.92 150.68 578.05 150.05 576.9 C149.42 575.75 148.75 574.38 148.15 573.1 C147.55 571.82 146.93 570.5 146.45 569.2 C145.97 567.9 145.57 566.58 145.25 565.3 C144.93 564.02 144.63 562.78 144.55 561.5 C144.47 560.22 144.55 559.05 144.75 557.6 C144.95 556.15 145.43 554.4 145.75 552.8 C146.07 551.2 146.33 549.62 146.65 548 C146.97 546.38 147.32 544.72 147.65 543.1 C147.98 541.48 148.2 539.9 148.65 538.3 C149.1 536.7 149.63 535.1 150.35 533.5 C151.07 531.9 152.03 530.15 152.95 528.7 C153.87 527.25 155.37 525.45 155.85 524.8 Z" fill="#e0776b" stroke="#2b2b2b" stroke-width="1.1" stroke-linejoin="round"/>
<line x1="161.15" y1="524.8" x2="161.15" y2="604" stroke="#4a1d18" stroke-width="1"/>
<circle cx="161.15" cy="619.8" r="2.2" fill="#000"/>
<rect x="157.25" y="544.3" width="7.8" height="28.9" fill="#e0776b" stroke="#000" stroke-width="1"/>
<line x1="157.25" y1="560" x2="165.05" y2="560" stroke="#000" stroke-width="1.8"/>
<path d="M256.1 513.4 C258.05 513.95 264.97 515.57 267.8 516.7 C270.63 517.83 272.08 519.23 273.1 520.2 C274.12 521.17 274.3 521.53 273.9 522.5 C273.5 523.47 272.3 524.83 270.7 526 C269.1 527.17 266.53 528.33 264.3 529.5 C262.07 530.67 259.45 531.83 257.3 533 C255.15 534.17 252.87 535.33 251.4 536.5 C249.93 537.67 249.17 538.83 248.5 540 C247.83 541.17 247.5 542.33 247.4 543.5 C247.3 544.67 247.82 545.63 247.9 547 C247.98 548.37 248.18 550.33 247.9 551.7 C247.62 553.07 246.87 554.03 246.2 555.2 C245.53 556.37 244.7 557.65 243.9 558.7 C243.1 559.75 242.12 560.9 241.4 561.5 C240.68 562.1 239.9 562.17 239.6 562.3 L237.6 562.3 C237.3 562.17 236.52 562.1 235.8 561.5 C235.08 560.9 234.1 559.75 233.3 558.7 C232.5 557.65 231.67 556.37 231 555.2 C230.33 554.03 229.58 553.07 229.3 551.7 C229.02 550.33 229.22 548.37 229.3 547 C229.38 545.63 229.9 544.67 229.8 543.5 C229.7 542.33 229.37 541.17 228.7 540 C228.03 538.83 227.27 537.67 225.8 536.5 C224.33 535.33 222.05 534.17 219.9 533 C217.75 531.83 215.13 530.67 212.9 529.5 C210.67 528.33 208.1 527.17 206.5 526 C204.9 524.83 203.7 523.47 203.3 522.5 C202.9 521.53 203.08 521.17 204.1 520.2 C205.12 519.23 206.57 517.83 209.4 516.7 C212.23 515.57 219.15 513.95 221.1 513.4 Z" fill="#e0776b" stroke="#2b2b2b" stroke-width="1.1" stroke-linejoin="round"/>
<line x1="238.6" y1="513.4" x2="238.6" y2="554" stroke="#000" stroke-width="1"/>
<circle cx="238.6" cy="559.9" r="2.2" fill="#000"/>
<circle cx="238.6" cy="560.6" r="2.2" fill="#000"/>
<rect x="234.7" y="519.9" width="7.8" height="15.5" fill="#e0776b" stroke="#000" stroke-width="1"/>
<line x1="234.7" y1="526" x2="242.5" y2="526" stroke="#000" stroke-width="1.8"/>
<line x1="360" y1="485.2" x2="678.6" y2="485.2" stroke="#3b78c6" stroke-width="1.3" stroke-dasharray="5.6 6.16"/>
<line x1="360" y1="513.7" x2="678.6" y2="513.7" stroke="#c9364f" stroke-width="1.3" stroke-dasharray="5.6 6.16"/>
<text x="635.3" y="481.9" font-size="10.4" text-anchor="middle" fill="#000" stroke="#000" stroke-width="0.15">bulk vs bulk</text>
<text x="635.5" y="512" font-size="10.4" text-anchor="middle" fill="#000" stroke="#000" stroke-width="0.15">sc vs sc</text>
<line x1="359.4" y1="456.2" x2="359.4" y2="684.35" stroke="#000" stroke-width="1.15"/>
<line x1="356.4" y1="654.35" x2="359.4" y2="654.35" stroke="#000" stroke-width="1.1"/>
<text x="353.2" y="658.49" font-size="11.5" text-anchor="end" fill="#000" stroke="#000" stroke-width="0.15">0.5</text>
<line x1="356.4" y1="616.8" x2="359.4" y2="616.8" stroke="#000" stroke-width="1.1"/>
<text x="353.2" y="620.94" font-size="11.5" text-anchor="end" fill="#000" stroke="#000" stroke-width="0.15">0.6</text>
<line x1="356.4" y1="579.25" x2="359.4" y2="579.25" stroke="#000" stroke-width="1.1"/>
<text x="353.2" y="583.39" font-size="11.5" text-anchor="end" fill="#000" stroke="#000" stroke-width="0.15">0.7</text>
<line x1="356.4" y1="541.7" x2="359.4" y2="541.7" stroke="#000" stroke-width="1.1"/>
<text x="353.2" y="545.84" font-size="11.5" text-anchor="end" fill="#000" stroke="#000" stroke-width="0.15">0.8</text>
<line x1="356.4" y1="513.7" x2="359.4" y2="513.7" stroke="#000" stroke-width="1.1"/>
<text x="353.2" y="517.84" font-size="11.5" text-anchor="end" fill="#c9364f" stroke="#c9364f" stroke-width="0.15">0.87</text>
<line x1="356.4" y1="504.15" x2="359.4" y2="504.15" stroke="#000" stroke-width="1.1"/>
<text x="353.2" y="508.29" font-size="11.5" text-anchor="end" fill="#000" stroke="#000" stroke-width="0.15">0.9</text>
<line x1="356.4" y1="485.2" x2="359.4" y2="485.2" stroke="#000" stroke-width="1.1"/>
<text x="353.2" y="489.34" font-size="11.5" text-anchor="end" fill="#3b78c6" stroke="#3b78c6" stroke-width="0.15">0.95</text>
<line x1="356.4" y1="466.6" x2="359.4" y2="466.6" stroke="#000" stroke-width="1.1"/>
<text x="353.2" y="470.74" font-size="11.5" text-anchor="end" fill="#000" stroke="#000" stroke-width="0.15">1</text>
<line x1="358.85" y1="683.8" x2="678.6" y2="683.8" stroke="#000" stroke-width="1.15"/>
<line x1="382.55" y1="683.8" x2="382.55" y2="686.8" stroke="#000" stroke-width="1.1"/>
<line x1="421.4" y1="683.8" x2="421.4" y2="686.8" stroke="#000" stroke-width="1.1"/>
<line x1="460.6" y1="683.8" x2="460.6" y2="686.8" stroke="#000" stroke-width="1.1"/>
<line x1="499.4" y1="683.8" x2="499.4" y2="686.8" stroke="#000" stroke-width="1.1"/>
<line x1="538.2" y1="683.8" x2="538.2" y2="686.8" stroke="#000" stroke-width="1.1"/>
<line x1="576.9" y1="683.8" x2="576.9" y2="686.8" stroke="#000" stroke-width="1.1"/>
<line x1="615.8" y1="683.8" x2="615.8" y2="686.8" stroke="#000" stroke-width="1.1"/>
<line x1="654.7" y1="683.8" x2="654.7" y2="686.8" stroke="#000" stroke-width="1.1"/>
<text x="382.55" y="697.7" font-size="10.6" text-anchor="middle" fill="#000" stroke="#000" stroke-width="0.15">1</text>
<text x="421.4" y="697.7" font-size="10.6" text-anchor="middle" fill="#000" stroke="#000" stroke-width="0.15">2</text>
<text x="460.6" y="697.7" font-size="10.6" text-anchor="middle" fill="#000" stroke="#000" stroke-width="0.15">3</text>
<text x="499.4" y="697.7" font-size="10.6" text-anchor="middle" fill="#000" stroke="#000" stroke-width="0.15">4</text>
<text x="538.2" y="697.7" font-size="10.6" text-anchor="middle" fill="#000" stroke="#000" stroke-width="0.15">5</text>
<text x="576.9" y="697.7" font-size="10.6" text-anchor="middle" fill="#000" stroke="#000" stroke-width="0.15">6</text>
<text x="615.8" y="697.7" font-size="10.6" text-anchor="middle" fill="#000" stroke="#000" stroke-width="0.15">7</text>
<text x="654.7" y="697.7" font-size="10.6" text-anchor="middle" fill="#000" stroke="#000" stroke-width="0.15">8</text>
<text x="325.4" y="570.2" font-size="13.2" text-anchor="middle" fill="#000" stroke="#000" stroke-width="0.15" transform="rotate(-90 325.4 570.2)">VH−gene usage Pearson correlation</text>
<text x="518.8" y="713.9" font-size="13.33" text-anchor="middle" fill="#000" stroke="#000" stroke-width="0.15">Number of scBCR−seq replicates merged</text>
<text x="382.55" y="677.5" font-size="10.7" text-anchor="middle" fill="#000" stroke="#000" stroke-width="0.15">0.75</text>
<text x="421.4" y="677.5" font-size="10.7" text-anchor="middle" fill="#000" stroke="#000" stroke-width="0.15">0.75</text>
<text x="460.6" y="677.5" font-size="10.7" text-anchor="middle" fill="#000" stroke="#000" stroke-width="0.15">0.75</text>
<text x="499.4" y="677.5" font-size="10.7" text-anchor="middle" fill="#000" stroke="#000" stroke-width="0.15">0.75</text>
<text x="538.2" y="677.5" font-size="10.7" text-anchor="middle" fill="#000" stroke="#000" stroke-width="0.15">0.75</text>
<text x="576.9" y="677.5" font-size="10.7" text-anchor="middle" fill="#000" stroke="#000" stroke-width="0.15">0.75</text>
<text x="615.8" y="677.5" font-size="10.7" text-anchor="middle" fill="#000" stroke="#000" stroke-width="0.15">0.74</text>
<text x="654.7" y="677.5" font-size="10.7" text-anchor="middle" fill="#000" stroke="#000" stroke-width="0.15">0.74</text>
<text x="360.2" y="466.3" font-size="10.4" text-anchor="start" fill="#000" stroke="#000" stroke-width="0.15">Kruskal–Wallis, p = 0.97</text>
<path d="M382.95 518.9 C383.02 519.85 383.2 522.83 383.35 524.6 C383.5 526.37 383.45 527.88 383.85 529.5 C384.25 531.12 384.95 532.7 385.75 534.3 C386.55 535.9 387.68 537.5 388.65 539.1 C389.62 540.7 390.67 542.28 391.55 543.9 C392.43 545.52 393.32 547.18 393.95 548.8 C394.58 550.42 395.07 552.32 395.35 553.6 C395.63 554.88 395.7 555.38 395.65 556.5 C395.6 557.62 395.42 558.87 395.05 560.3 C394.68 561.73 393.98 563.48 393.45 565.1 C392.92 566.72 392.38 568.38 391.85 570 C391.32 571.62 390.87 573.03 390.25 574.8 C389.63 576.57 388.8 579.07 388.15 580.6 C387.5 582.13 386.83 582.87 386.35 584 C385.87 585.13 385.63 585.8 385.25 587.4 C384.87 589 384.35 591.53 384.05 593.6 C383.75 595.67 383.6 597.73 383.45 599.8 C383.3 601.87 383.22 600.97 383.15 606 C383.08 611.03 383.08 620.67 383.05 630 C383.02 639.33 382.97 656.67 382.95 662 L382.15 662 C382.13 656.67 382.08 639.33 382.05 630 C382.02 620.67 382.02 611.03 381.95 606 C381.88 600.97 381.8 601.87 381.65 599.8 C381.5 597.73 381.35 595.67 381.05 593.6 C380.75 591.53 380.23 589 379.85 587.4 C379.47 585.8 379.23 585.13 378.75 584 C378.27 582.87 377.6 582.13 376.95 580.6 C376.3 579.07 375.47 576.57 374.85 574.8 C374.23 573.03 373.78 571.62 373.25 570 C372.72 568.38 372.18 566.72 371.65 565.1 C371.12 563.48 370.42 561.73 370.05 560.3 C369.68 558.87 369.5 557.62 369.45 556.5 C369.4 555.38 369.47 554.88 369.75 553.6 C370.03 552.32 370.52 550.42 371.15 548.8 C371.78 547.18 372.67 545.52 373.55 543.9 C374.43 542.28 375.48 540.7 376.45 539.1 C377.42 537.5 378.55 535.9 379.35 534.3 C380.15 532.7 380.85 531.12 381.25 529.5 C381.65 527.88 381.6 526.37 381.75 524.6 C381.9 522.83 382.08 519.85 382.15 518.9 Z" fill="#5a8de0" stroke="#2b2b2b" stroke-width="1.1" stroke-linejoin="round"/>
<line x1="382.55" y1="518.9" x2="382.55" y2="604.8" stroke="#000" stroke-width="1"/>
<circle cx="382.55" cy="612.4" r="2" fill="#000"/>
<circle cx="382.55" cy="614.56" r="2" fill="#000"/>
<circle cx="382.55" cy="616.72" r="2" fill="#000"/>
<circle cx="382.55" cy="618.88" r="2" fill="#000"/>
<circle cx="382.55" cy="621.04" r="2" fill="#000"/>
<circle cx="382.55" cy="623.2" r="2" fill="#000"/>
<circle cx="382.55" cy="625.5" r="2" fill="#000"/>
<circle cx="382.55" cy="627.83" r="2" fill="#000"/>
<circle cx="382.55" cy="630.17" r="2" fill="#000"/>
<circle cx="382.55" cy="632.5" r="2" fill="#000"/>
<circle cx="382.55" cy="655.2" r="2" fill="#000"/>
<circle cx="382.55" cy="657.57" r="2" fill="#000"/>
<circle cx="382.55" cy="659.93" r="2" fill="#000"/>
<circle cx="382.55" cy="662.3" r="2" fill="#000"/>
<rect x="380.45" y="553.4" width="4.2" height="23.3" fill="#5a8de0" stroke="#000" stroke-width="1"/>
<line x1="380.45" y1="561.5" x2="384.65" y2="561.5" stroke="#000" stroke-width="1"/>
<path d="M424.2 537 C424.78 537.78 426.33 539.95 427.7 541.7 C429.07 543.45 431.03 545.55 432.4 547.5 C433.77 549.45 435.17 551.63 435.9 553.4 C436.63 555.17 436.9 556.55 436.8 558.1 C436.7 559.65 436 561.15 435.3 562.7 C434.6 564.25 433.47 565.83 432.6 567.4 C431.73 568.97 430.92 570.53 430.1 572.1 C429.28 573.67 428.38 575.23 427.7 576.8 C427.02 578.37 426.43 579.95 426 581.5 C425.57 583.05 425.37 584.55 425.1 586.1 C424.83 587.65 424.58 589.23 424.4 590.8 C424.22 592.37 424.17 594.13 424 595.5 C423.83 596.87 423.63 597.25 423.4 599 C423.17 600.75 422.87 603.5 422.6 606 C422.33 608.5 421.93 612.67 421.8 614 L421 614 C420.87 612.67 420.47 608.5 420.2 606 C419.93 603.5 419.63 600.75 419.4 599 C419.17 597.25 418.97 596.87 418.8 595.5 C418.63 594.13 418.58 592.37 418.4 590.8 C418.22 589.23 417.97 587.65 417.7 586.1 C417.43 584.55 417.23 583.05 416.8 581.5 C416.37 579.95 415.78 578.37 415.1 576.8 C414.42 575.23 413.52 573.67 412.7 572.1 C411.88 570.53 411.07 568.97 410.2 567.4 C409.33 565.83 408.2 564.25 407.5 562.7 C406.8 561.15 406.1 559.65 406 558.1 C405.9 556.55 406.17 555.17 406.9 553.4 C407.63 551.63 409.03 549.45 410.4 547.5 C411.77 545.55 413.73 543.45 415.1 541.7 C416.47 539.95 418.02 537.78 418.6 537 Z" fill="#5a8de0" stroke="#2b2b2b" stroke-width="1.1" stroke-linejoin="round"/>
<line x1="421.4" y1="537" x2="421.4" y2="599" stroke="#000" stroke-width="1"/>
<circle cx="421.4" cy="600.2" r="2" fill="#000"/>
<circle cx="421.4" cy="602.2" r="2" fill="#000"/>
<circle cx="421.4" cy="606" r="2" fill="#000"/>
<circle cx="421.4" cy="608" r="2" fill="#000"/>
<circle cx="421.4" cy="611.5" r="2" fill="#000"/>
<circle cx="421.4" cy="612.8" r="2" fill="#000"/>
<rect x="419.3" y="554.2" width="4.2" height="18.1" fill="#5a8de0" stroke="#000" stroke-width="1"/>
<line x1="419.3" y1="560.6" x2="423.5" y2="560.6" stroke="#000" stroke-width="1"/>
<path d="M462.8 535.3 C463.2 536.12 464.12 538.4 465.2 540.2 C466.28 542 467.83 544.15 469.3 546.1 C470.77 548.05 472.8 550.15 474 551.9 C475.2 553.65 475.97 555.23 476.5 556.6 C477.03 557.97 477.23 558.92 477.2 560.1 C477.17 561.28 476.93 562.33 476.3 563.7 C475.67 565.07 474.47 566.75 473.4 568.3 C472.33 569.85 471.08 571.43 469.9 573 C468.72 574.57 467.28 576.13 466.3 577.7 C465.32 579.27 464.52 580.83 464 582.4 C463.48 583.97 463.33 585.35 463.2 587.1 C463.07 588.85 463.27 591.15 463.2 592.9 C463.13 594.65 462.98 596.17 462.8 597.6 C462.62 599.03 462.38 600.52 462.1 601.5 C461.82 602.48 461.27 603.17 461.1 603.5 L460.1 603.5 C459.93 603.17 459.38 602.48 459.1 601.5 C458.82 600.52 458.58 599.03 458.4 597.6 C458.22 596.17 458.07 594.65 458 592.9 C457.93 591.15 458.13 588.85 458 587.1 C457.87 585.35 457.72 583.97 457.2 582.4 C456.68 580.83 455.88 579.27 454.9 577.7 C453.92 576.13 452.48 574.57 451.3 573 C450.12 571.43 448.87 569.85 447.8 568.3 C446.73 566.75 445.53 565.07 444.9 563.7 C444.27 562.33 444.03 561.28 444 560.1 C443.97 558.92 444.17 557.97 444.7 556.6 C445.23 555.23 446 553.65 447.2 551.9 C448.4 550.15 450.43 548.05 451.9 546.1 C453.37 544.15 454.92 542 456 540.2 C457.08 538.4 458 536.12 458.4 535.3 Z" fill="#5a8de0" stroke="#2b2b2b" stroke-width="1.1" stroke-linejoin="round"/>
<line x1="460.6" y1="535.3" x2="460.6" y2="593" stroke="#000" stroke-width="1"/>
<circle cx="460.6" cy="594.3" r="2" fill="#000"/>
<circle cx="460.6" cy="596.55" r="2" fill="#000"/>
<circle cx="460.6" cy="598.8" r="2" fill="#000"/>
<circle cx="460.6" cy="601.05" r="2" fill="#000"/>
<circle cx="460.6" cy="603.3" r="2" fill="#000"/>
<rect x="458.5" y="554.5" width="4.2" height="15.9" fill="#5a8de0" stroke="#000" stroke-width="1"/>
<line x1="458.5" y1="560.7" x2="462.7" y2="560.7" stroke="#000" stroke-width="1"/>
<path d="M500 527.9 C500.15 528.42 500.55 529.73 500.9 531 C501.25 532.27 501.7 533.97 502.1 535.5 C502.5 537.03 502.62 538.63 503.3 540.2 C503.98 541.77 505.03 543.33 506.2 544.9 C507.37 546.47 508.93 548.03 510.3 549.6 C511.67 551.17 513.33 552.73 514.4 554.3 C515.47 555.87 516.42 557.63 516.7 559 C516.98 560.37 516.78 561.13 516.1 562.5 C515.42 563.87 513.97 565.63 512.6 567.2 C511.23 568.77 509.3 570.53 507.9 571.9 C506.5 573.27 505.07 573.85 504.2 575.4 C503.33 576.95 502.95 579.05 502.7 581.2 C502.45 583.35 502.8 586.35 502.7 588.3 C502.6 590.25 502.3 590.77 502.1 592.9 C501.9 595.03 501.75 599.08 501.5 601.1 C501.25 603.12 500.88 604.02 500.6 605 C500.32 605.98 499.93 606.67 499.8 607 L499 607 C498.87 606.67 498.48 605.98 498.2 605 C497.92 604.02 497.55 603.12 497.3 601.1 C497.05 599.08 496.9 595.03 496.7 592.9 C496.5 590.77 496.2 590.25 496.1 588.3 C496 586.35 496.35 583.35 496.1 581.2 C495.85 579.05 495.47 576.95 494.6 575.4 C493.73 573.85 492.3 573.27 490.9 571.9 C489.5 570.53 487.57 568.77 486.2 567.2 C484.83 565.63 483.38 563.87 482.7 562.5 C482.02 561.13 481.82 560.37 482.1 559 C482.38 557.63 483.33 555.87 484.4 554.3 C485.47 552.73 487.13 551.17 488.5 549.6 C489.87 548.03 491.43 546.47 492.6 544.9 C493.77 543.33 494.82 541.77 495.5 540.2 C496.18 538.63 496.3 537.03 496.7 535.5 C497.1 533.97 497.55 532.27 497.9 531 C498.25 529.73 498.65 528.42 498.8 527.9 Z" fill="#5a8de0" stroke="#2b2b2b" stroke-width="1.1" stroke-linejoin="round"/>
<line x1="499.4" y1="535" x2="499.4" y2="588.8" stroke="#000" stroke-width="1"/>
<circle cx="499.4" cy="528.6" r="2" fill="#000"/>
<circle cx="499.4" cy="530.6" r="2" fill="#000"/>
<circle cx="499.4" cy="532.6" r="2" fill="#000"/>
<circle cx="499.4" cy="593.5" r="2" fill="#000"/>
<circle cx="499.4" cy="595.67" r="2" fill="#000"/>
<circle cx="499.4" cy="597.83" r="2" fill="#000"/>
<circle cx="499.4" cy="600" r="2" fill="#000"/>
<circle cx="499.4" cy="605.2" r="2" fill="#000"/>
<rect x="497.3" y="554.5" width="4.2" height="14.1" fill="#5a8de0" stroke="#000" stroke-width="1"/>
<line x1="497.3" y1="561.9" x2="501.5" y2="561.9" stroke="#000" stroke-width="1"/>
<path d="M538.8 526.8 C538.97 527.25 539.55 528.57 539.8 529.5 C540.05 530.43 540.12 530.88 540.3 532.4 C540.48 533.92 540.48 536.73 540.9 538.6 C541.32 540.47 541.65 541.95 542.8 543.6 C543.95 545.25 546.15 546.85 547.8 548.5 C549.45 550.15 551.52 551.85 552.7 553.5 C553.88 555.15 554.48 556.95 554.9 558.4 C555.32 559.85 555.57 560.75 555.2 562.2 C554.83 563.65 554.05 565.45 552.7 567.1 C551.35 568.75 548.85 570.43 547.1 572.1 C545.35 573.77 543.23 575.45 542.2 577.1 C541.17 578.75 541.12 579.93 540.9 582 C540.68 584.07 540.9 587.02 540.9 589.5 C540.9 591.98 541.08 594.82 540.9 596.9 C540.72 598.98 540.18 600.73 539.8 602 C539.42 603.27 538.8 604.08 538.6 604.5 L537.8 604.5 C537.6 604.08 536.98 603.27 536.6 602 C536.22 600.73 535.68 598.98 535.5 596.9 C535.32 594.82 535.5 591.98 535.5 589.5 C535.5 587.02 535.72 584.07 535.5 582 C535.28 579.93 535.23 578.75 534.2 577.1 C533.17 575.45 531.05 573.77 529.3 572.1 C527.55 570.43 525.05 568.75 523.7 567.1 C522.35 565.45 521.57 563.65 521.2 562.2 C520.83 560.75 521.08 559.85 521.5 558.4 C521.92 556.95 522.52 555.15 523.7 553.5 C524.88 551.85 526.95 550.15 528.6 548.5 C530.25 546.85 532.45 545.25 533.6 543.6 C534.75 541.95 535.08 540.47 535.5 538.6 C535.92 536.73 535.92 533.92 536.1 532.4 C536.28 530.88 536.35 530.43 536.6 529.5 C536.85 528.57 537.43 527.25 537.6 526.8 Z" fill="#5a8de0" stroke="#2b2b2b" stroke-width="1.1" stroke-linejoin="round"/>
<line x1="538.2" y1="537.4" x2="538.2" y2="589.5" stroke="#000" stroke-width="1"/>
<circle cx="538.2" cy="527.2" r="2" fill="#000"/>
<circle cx="538.2" cy="529.6" r="2" fill="#000"/>
<circle cx="538.2" cy="593.2" r="2" fill="#000"/>
<circle cx="538.2" cy="595.27" r="2" fill="#000"/>
<circle cx="538.2" cy="597.33" r="2" fill="#000"/>
<circle cx="538.2" cy="599.4" r="2" fill="#000"/>
<circle cx="538.2" cy="604.3" r="2" fill="#000"/>
<rect x="536.1" y="554.7" width="4.2" height="14.7" fill="#5a8de0" stroke="#000" stroke-width="1"/>
<line x1="536.1" y1="562.5" x2="540.3" y2="562.5" stroke="#000" stroke-width="1"/>
<path d="M577.5 525.6 C577.63 526 578.08 527.07 578.3 528 C578.52 528.93 578.62 529.43 578.8 531.2 C578.98 532.97 578.88 536.33 579.4 538.6 C579.92 540.87 580.77 542.93 581.9 544.8 C583.03 546.67 584.77 548.15 586.2 549.8 C587.63 551.45 589.37 553.05 590.5 554.7 C591.63 556.35 592.58 558.25 593 559.7 C593.42 561.15 593.42 561.95 593 563.4 C592.58 564.85 591.73 566.75 590.5 568.4 C589.27 570.05 587.15 571.65 585.6 573.3 C584.05 574.95 582.23 576.63 581.2 578.3 C580.17 579.97 579.6 581.65 579.4 583.3 C579.2 584.95 579.8 586.55 580 588.2 C580.2 589.85 580.6 591.55 580.6 593.2 C580.6 594.85 580.35 596.8 580 598.1 C579.65 599.4 578.95 600.35 578.5 601 C578.05 601.65 577.5 601.83 577.3 602 L576.5 602 C576.3 601.83 575.75 601.65 575.3 601 C574.85 600.35 574.15 599.4 573.8 598.1 C573.45 596.8 573.2 594.85 573.2 593.2 C573.2 591.55 573.6 589.85 573.8 588.2 C574 586.55 574.6 584.95 574.4 583.3 C574.2 581.65 573.63 579.97 572.6 578.3 C571.57 576.63 569.75 574.95 568.2 573.3 C566.65 571.65 564.53 570.05 563.3 568.4 C562.07 566.75 561.22 564.85 560.8 563.4 C560.38 561.95 560.38 561.15 560.8 559.7 C561.22 558.25 562.17 556.35 563.3 554.7 C564.43 553.05 566.17 551.45 567.6 549.8 C569.03 548.15 570.77 546.67 571.9 544.8 C573.03 542.93 573.88 540.87 574.4 538.6 C574.92 536.33 574.82 532.97 575 531.2 C575.18 529.43 575.28 528.93 575.5 528 C575.72 527.07 576.17 526 576.3 525.6 Z" fill="#5a8de0" stroke="#2b2b2b" stroke-width="1.1" stroke-linejoin="round"/>
<line x1="576.9" y1="536.1" x2="576.9" y2="588" stroke="#000" stroke-width="1"/>
<circle cx="576.9" cy="525.8" r="2" fill="#000"/>
<circle cx="576.9" cy="593.2" r="2" fill="#000"/>
<circle cx="576.9" cy="596" r="2" fill="#000"/>
<circle cx="576.9" cy="598.5" r="2" fill="#000"/>
<circle cx="576.9" cy="600.6" r="2" fill="#000"/>
<rect x="574.8" y="555.3" width="4.2" height="14.9" fill="#5a8de0" stroke="#000" stroke-width="1"/>
<line x1="574.8" y1="562.8" x2="579" y2="562.8" stroke="#000" stroke-width="1"/>
<path d="M616.6 530.3 C616.83 530.67 617.6 531.43 618 532.5 C618.4 533.57 618.83 535.02 619 536.7 C619.17 538.38 618.62 540.65 619 542.6 C619.38 544.55 619.85 546.65 621.3 548.4 C622.75 550.15 625.95 551.53 627.7 553.1 C629.45 554.67 630.85 556.43 631.8 557.8 C632.75 559.17 633.3 560.13 633.4 561.3 C633.5 562.47 633.15 563.43 632.4 564.8 C631.65 566.17 630.37 567.93 628.9 569.5 C627.43 571.07 625.25 572.63 623.6 574.2 C621.95 575.77 620.07 577.33 619 578.9 C617.93 580.47 617.2 582.05 617.2 583.6 C617.2 585.15 618.52 586.65 619 588.2 C619.48 589.75 620.02 591.33 620.1 592.9 C620.18 594.47 619.88 596.42 619.5 597.6 C619.12 598.78 618.35 599.47 617.8 600 C617.25 600.53 616.47 600.67 616.2 600.8 L615.4 600.8 C615.13 600.67 614.35 600.53 613.8 600 C613.25 599.47 612.48 598.78 612.1 597.6 C611.72 596.42 611.42 594.47 611.5 592.9 C611.58 591.33 612.12 589.75 612.6 588.2 C613.08 586.65 614.4 585.15 614.4 583.6 C614.4 582.05 613.67 580.47 612.6 578.9 C611.53 577.33 609.65 575.77 608 574.2 C606.35 572.63 604.17 571.07 602.7 569.5 C601.23 567.93 599.95 566.17 599.2 564.8 C598.45 563.43 598.1 562.47 598.2 561.3 C598.3 560.13 598.85 559.17 599.8 557.8 C600.75 556.43 602.15 554.67 603.9 553.1 C605.65 551.53 608.85 550.15 610.3 548.4 C611.75 546.65 612.22 544.55 612.6 542.6 C612.98 540.65 612.43 538.38 612.6 536.7 C612.77 535.02 613.2 533.57 613.6 532.5 C614 531.43 614.77 530.67 615 530.3 Z" fill="#5a8de0" stroke="#2b2b2b" stroke-width="1.1" stroke-linejoin="round"/>
<line x1="615.8" y1="541.4" x2="615.8" y2="588" stroke="#000" stroke-width="1"/>
<circle cx="615.8" cy="530.8" r="2" fill="#000"/>
<circle cx="615.8" cy="532.7" r="2" fill="#000"/>
<circle cx="615.8" cy="534.6" r="2" fill="#000"/>
<circle cx="615.8" cy="593" r="2" fill="#000"/>
<circle cx="615.8" cy="598.6" r="2" fill="#000"/>
<rect x="613.7" y="558" width="4.2" height="14.4" fill="#5a8de0" stroke="#000" stroke-width="1"/>
<line x1="613.7" y1="563.4" x2="617.9" y2="563.4" stroke="#000" stroke-width="1"/>
<path d="M655.5 532.3 C655.73 532.67 656.55 533.77 656.9 534.5 C657.25 535.23 657.38 535.35 657.6 536.7 C657.82 538.05 657.7 540.65 658.2 542.6 C658.7 544.55 659.43 546.65 660.6 548.4 C661.77 550.15 663.75 551.53 665.2 553.1 C666.65 554.67 668.32 556.43 669.3 557.8 C670.28 559.17 670.83 560.13 671.1 561.3 C671.37 562.47 671.38 563.43 670.9 564.8 C670.42 566.17 669.43 567.93 668.2 569.5 C666.97 571.07 664.97 572.63 663.5 574.2 C662.03 575.77 660.28 577.33 659.4 578.9 C658.52 580.47 658.4 582.05 658.2 583.6 C658 585.15 658.1 586.65 658.2 588.2 C658.3 589.75 658.88 591.6 658.8 592.9 C658.72 594.2 658.28 595.12 657.7 596 C657.12 596.88 655.7 597.83 655.3 598.2 L654.1 598.2 C653.7 597.83 652.28 596.88 651.7 596 C651.12 595.12 650.68 594.2 650.6 592.9 C650.52 591.6 651.1 589.75 651.2 588.2 C651.3 586.65 651.4 585.15 651.2 583.6 C651 582.05 650.88 580.47 650 578.9 C649.12 577.33 647.37 575.77 645.9 574.2 C644.43 572.63 642.43 571.07 641.2 569.5 C639.97 567.93 638.98 566.17 638.5 564.8 C638.02 563.43 638.03 562.47 638.3 561.3 C638.57 560.13 639.12 559.17 640.1 557.8 C641.08 556.43 642.75 554.67 644.2 553.1 C645.65 551.53 647.63 550.15 648.8 548.4 C649.97 546.65 650.7 544.55 651.2 542.6 C651.7 540.65 651.58 538.05 651.8 536.7 C652.02 535.35 652.15 535.23 652.5 534.5 C652.85 533.77 653.67 532.67 653.9 532.3 Z" fill="#5a8de0" stroke="#2b2b2b" stroke-width="1.1" stroke-linejoin="round"/>
<line x1="654.7" y1="542.6" x2="654.7" y2="590.6" stroke="#000" stroke-width="1"/>
<circle cx="654.7" cy="532.8" r="2" fill="#000"/>
<circle cx="654.7" cy="597.4" r="2" fill="#000"/>
<rect x="652.6" y="558" width="4.2" height="14.4" fill="#5a8de0" stroke="#000" stroke-width="1"/>
<line x1="652.6" y1="563.1" x2="656.8" y2="563.1" stroke="#000" stroke-width="1"/>
</svg>
</body></html>
